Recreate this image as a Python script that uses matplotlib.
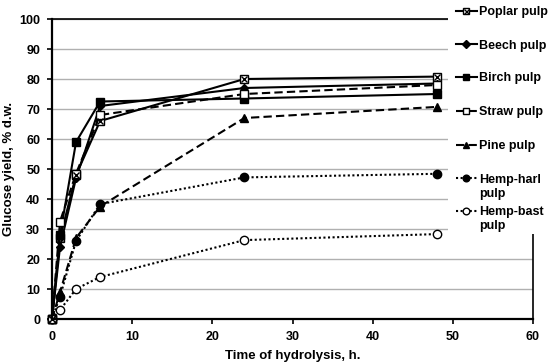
import matplotlib
matplotlib.use('Agg')
import matplotlib.pyplot as plt
from matplotlib.lines import Line2D
from matplotlib.patches import Rectangle

plt.rcParams['font.family'] = ['Liberation Sans', 'DejaVu Sans']
plt.rcParams['font.weight'] = 'bold'
plt.rcParams['font.size'] = 9

# hydrolysis time, h
t = [0, 1, 3, 6, 24, 48]

# glucose yield, % d.w.
poplar = [0, 27, 48, 66, 80, 80.8]
beech = [0, 24, 47, 71, 77, 78.5]
birch = [0, 28, 59, 72.5, 73.5, 75]
straw = [0, 32.5, 48.5, 68, 75, 78]
pine = [0, 9, 27, 37.5, 67, 70.7]
harl = [0, 7.5, 26, 38.3, 47.2, 48.4]
bast = [0, 3, 10, 14, 26.3, 28.3]

labels = ['Poplar pulp', 'Beech pulp', 'Birch pulp', 'Straw pulp', 'Pine pulp',
          'Hemp-harl\npulp', 'Hemp-bast\npulp']

styles = [
    dict(ls='-', lw=1.5, marker='s', mfc='white', mec='black', ms=6),
    dict(ls='-', lw=1.5, marker='D', mfc='black', mec='black', ms=4.5),
    dict(ls='-', lw=1.5, marker='s', mfc='black', mec='black', ms=6),
    dict(ls=(0, (4, 2)), lw=1.5, marker='s', mfc='white', mec='black', ms=6),
    dict(ls=(0, (4, 2)), lw=1.5, marker='^', mfc='black', mec='black', ms=6),
    dict(ls=(0, (1, 1.2)), lw=1.5, marker='o', mfc='black', mec='black', ms=6),
    dict(ls=(0, (1, 1.2)), lw=1.5, marker='o', mfc='white', mec='black', ms=6),
]
series = [poplar, beech, birch, straw, pine, harl, bast]

fig = plt.figure(figsize=(5.53, 3.64), dpi=100)
ax = fig.add_axes([52 / 553, 45 / 364, 481 / 553, 300 / 364])

for y, st in zip(series, styles):
    ax.plot(t, y, color='black', mew=1.0, clip_on=False, **st)
# cross inside the poplar squares
ax.plot(t, poplar, ls='none', marker='x', color='black', ms=4.5, mew=1.0,
        clip_on=False)

ax.set_xlim(0, 60)
ax.set_ylim(0, 100)
ax.set_xticks(range(0, 61, 10))
ax.set_yticks(range(0, 101, 10))
ax.yaxis.grid(True, color='#b0b0b0', lw=1)
ax.set_axisbelow(True)
for s in ['left', 'bottom']:
    ax.spines[s].set_linewidth(1.6)
for s in ['top', 'right']:
    ax.spines[s].set_linewidth(1.2)
ax.tick_params(direction='out', length=3.5, width=1.2, labelsize=9)
ax.tick_params(axis='y', pad=5)
ax.tick_params(axis='x', pad=5)
for lab in ax.get_xticklabels() + ax.get_yticklabels():
    lab.set_fontweight('bold')
ax.set_xlabel('Time of hydrolysis, h.', fontweight='bold', fontsize=9.5, labelpad=5)
ax.set_ylabel('Glucose yield, % d.w.', fontweight='bold', fontsize=9.5, labelpad=3)

# white box behind the legend, hiding the grid there
fig.add_artist(Rectangle((448 / 553, 130 / 364), 105 / 553, 234 / 364,
                         transform=fig.transFigure, facecolor='white',
                         edgecolor='none', zorder=1))

W, H = 553, 364
ys = [11, 44, 77, 111, 145, 178, 211]
for yy, lab, st in zip(ys, labels, styles):
    yf = 1 - yy / H
    fig.add_artist(Line2D([456 / W, 477 / W], [yf, yf], color='black',
                          ls=st['ls'], lw=st['lw'], zorder=2))
    fig.add_artist(Line2D([466 / W], [yf], ls='none', marker=st['marker'],
                          mfc=st['mfc'], mec='black', ms=st['ms'] * 0.8,
                          mew=1.0, zorder=3))
    for i, line in enumerate(lab.split('\n')):
        fig.text(479 / W, 1 - (yy + 4.5 + 14 * i) / H, line, ha='left',
                 va='baseline', fontsize=9, fontweight='bold', zorder=3)
fig.add_artist(Line2D([466 / W], [1 - 11 / H], ls='none', marker='x',
                      color='black', ms=3.6, mew=1.0, zorder=4))

fig.savefig('out.png', dpi=100)
